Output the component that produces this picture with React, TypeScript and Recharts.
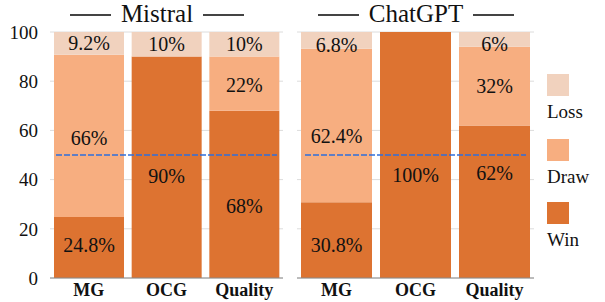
import React from 'react';
import {
  BarChart,
  Bar,
  XAxis,
  YAxis,
  CartesianGrid,
  ReferenceLine,
  LabelList,
} from 'recharts';

const CATEGORIES = ['MG', 'OCG', 'Quality'];
const Y_TICKS = [0, 20, 40, 60, 80, 100];

const MISTRAL_WIN = [24.8, 90, 68];
const MISTRAL_DRAW = [66, 0, 22];
const MISTRAL_LOSS = [9.2, 10, 10];

const CHATGPT_WIN = [30.8, 100, 62];
const CHATGPT_DRAW = [62.4, 0, 32];
const CHATGPT_LOSS = [6.8, 0, 6];

const THRESHOLD = 50;

const COLORS = {
  win: '#dd7331',
  draw: '#f7ae80',
  loss: '#f1d2be',
};
const SERIF = '"Liberation Serif", "DejaVu Serif", serif';
const TEXT = '#111';
const DASH = '#2f6fdc';

// label nudges (px) so the numbers sit where the original put them
const MISTRAL_NUDGE = { win: [-2, 9, 12], draw: [2, 0, 1], loss: [0, 0, 0] };
const CHATGPT_NUDGE = { win: [5, 20, -29], draw: [11, 0, 0], loss: [5, 0, 5] };

function buildRows(win: number[], draw: number[], loss: number[]) {
  return CATEGORIES.map((name, i) => ({ name, win: win[i], draw: draw[i], loss: loss[i] }));
}

function segmentLabel(values: number[], nudge: number[]) {
  return (props: any) => {
    const { x, y, width, height } = props;
    let raw = props.value;
    if (Array.isArray(raw)) raw = raw[1] - raw[0];
    raw = Number(raw);
    // zero-height segments are skipped, so match the category by its value
    let i = values.findIndex((a) => Math.abs(a - raw) < 1e-6);
    if (i < 0) i = props.index;
    const v = values[i];
    if (!v) return null;
    return (
      <text
        x={Number(x) + Number(width) / 2}
        y={Number(y) + Number(height) / 2 + nudge[i]}
        textAnchor="middle"
        dominantBaseline="central"
        fontFamily={SERIF}
        fontSize={20}
        fill={TEXT}
      >
        {`${v}%`}
      </text>
    );
  };
}

function dashedShape(inset: number) {
  return (props: any) => {
    const { x1, x2, y1 } = props;
    return (
      <line
        x1={x1 + inset}
        x2={x2 - inset}
        y1={y1}
        y2={y1}
        stroke={DASH}
        strokeWidth={1.5}
        strokeDasharray="6 2"
      />
    );
  };
}

interface PanelProps {
  win: number[];
  draw: number[];
  loss: number[];
  nudge: { win: number[]; draw: number[]; loss: number[] };
  width: number;
  margin: { top: number; right: number; bottom: number; left: number };
  barSize: number;
  showY: boolean;
  inset: number;
}

function Panel({ win, draw, loss, nudge, width, margin, barSize, showY, inset }: PanelProps) {
  const data = buildRows(win, draw, loss);
  return (
    <BarChart width={width} height={302} data={data} margin={margin} barSize={barSize}>
      <CartesianGrid vertical={false} stroke="#dcdcdc" />
      <XAxis
        dataKey="name"
        axisLine={{ stroke: '#8a8a8a' }}
        tickLine={false}
        tickSize={0}
        tickMargin={5}
        height={24}
        tick={{ fontFamily: SERIF, fontSize: 18, fontWeight: 'bold', fill: TEXT }}
      />
      <YAxis
        hide={!showY}
        domain={[0, 100]}
        ticks={Y_TICKS}
        axisLine={false}
        tickLine={false}
        tickSize={0}
        tickMargin={12}
        width={40}
        tick={{ fontFamily: SERIF, fontSize: 19, fill: TEXT }}
      />
      <Bar dataKey="win" stackId="s" fill={COLORS.win} isAnimationActive={false}>
        <LabelList dataKey="win" content={segmentLabel(win, nudge.win)} />
      </Bar>
      <Bar dataKey="draw" stackId="s" fill={COLORS.draw} isAnimationActive={false}>
        <LabelList dataKey="draw" content={segmentLabel(draw, nudge.draw)} />
      </Bar>
      <Bar dataKey="loss" stackId="s" fill={COLORS.loss} isAnimationActive={false}>
        <LabelList dataKey="loss" content={segmentLabel(loss, nudge.loss)} />
      </Bar>
      <ReferenceLine y={THRESHOLD} shape={dashedShape(inset)} />
    </BarChart>
  );
}

function Title({ text, center }: { text: string; center: number }) {
  const line = { width: 41, height: 1.3, background: '#444', marginTop: 3 };
  return (
    <div
      style={{
        position: 'absolute',
        top: 1,
        left: center - 150,
        width: 300,
        display: 'flex',
        justifyContent: 'center',
        alignItems: 'center',
        gap: 10,
        fontFamily: SERIF,
        fontSize: 25,
        lineHeight: '25px',
        color: TEXT,
      }}
    >
      <div style={line} />
      <span>{text}</span>
      <div style={line} />
    </div>
  );
}

const LEGEND = [
  { label: 'Loss', color: COLORS.loss, top: 74 },
  { label: 'Draw', color: COLORS.draw, top: 139 },
  { label: 'Win', color: COLORS.win, top: 202 },
];

export default function App() {
  return (
    <div
      style={{
        position: 'absolute',
        left: 0,
        top: 0,
        width: 605,
        height: 302,
        background: '#fff',
        overflow: 'hidden',
      }}
    >
      <div style={{ position: 'absolute', left: 0, top: 0 }}>
        <Panel
          win={MISTRAL_WIN}
          draw={MISTRAL_DRAW}
          loss={MISTRAL_LOSS}
          nudge={MISTRAL_NUDGE}
          width={290}
          margin={{ top: 32, right: 7, bottom: 0, left: 10 }}
          barSize={70}
          showY
          inset={6}
        />
      </div>
      <div style={{ position: 'absolute', left: 290, top: 0 }}>
        <Panel
          win={CHATGPT_WIN}
          draw={CHATGPT_DRAW}
          loss={CHATGPT_LOSS}
          nudge={CHATGPT_NUDGE}
          width={250}
          margin={{ top: 32, right: 6, bottom: 0, left: 7 }}
          barSize={71}
          showY={false}
          inset={8}
        />
      </div>
      <Title text="Mistral" center={157} />
      <Title text="ChatGPT" center={416} />
      {LEGEND.map((l) => (
        <div key={l.label} style={{ position: 'absolute', left: 547, top: l.top }}>
          <div style={{ width: 22, height: 22, background: l.color }} />
          <div
            style={{
              fontFamily: SERIF,
              fontSize: 19,
              lineHeight: '19px',
              color: TEXT,
              marginTop: 6,
            }}
          >
            {l.label}
          </div>
        </div>
      ))}
    </div>
  );
}
